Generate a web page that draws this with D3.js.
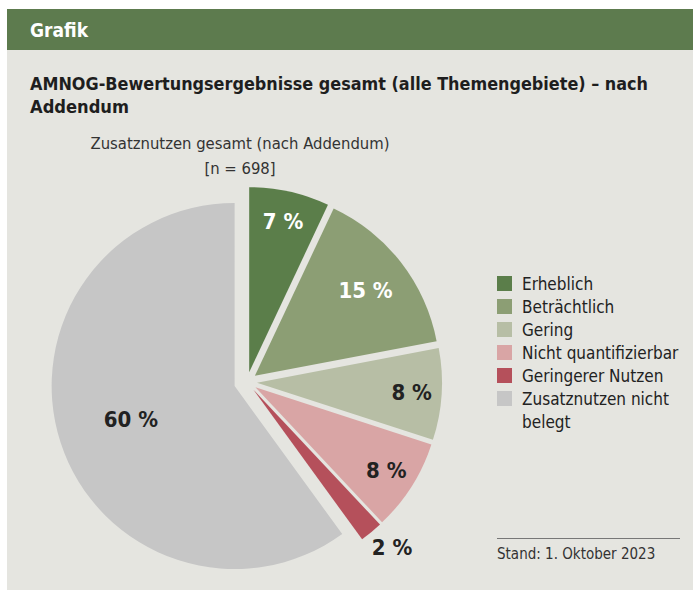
<!DOCTYPE html>
<html>
<head>
<meta charset="utf-8">
<script src="https://cdn.jsdelivr.net/npm/d3@7"></script>
<style>
  body { margin: 0; background: #fff; }
  text { font-family: "DejaVu Sans Condensed", "DejaVu Sans", sans-serif; }
</style>
</head>
<body>
<script>
// data
var categories = ["Erheblich", "Beträchtlich", "Gering", "Nicht quantifizierbar", "Geringerer Nutzen", "Zusatznutzen nicht belegt"];
var values = [7, 15, 8, 8, 2, 60];
var colors = ["#5b7e4a", "#8c9e74", "#b7bea5", "#d9a5a5", "#b5505b", "#c6c6c6"];
var labelColors = ["#fff", "#fff", "#222", "#222", "#222", "#222"];

var w = 693, h = 590;
var bg = "#e5e5e0";

var svg = d3.select("body").append("svg")
    .attr("width", w)
    .attr("height", h);

// panel + header band
svg.append("rect").attr("x", 7).attr("y", 9).attr("width", w - 7).attr("height", h - 9).attr("fill", bg);
svg.append("rect").attr("x", 7).attr("y", 9).attr("width", w - 7).attr("height", 41).attr("fill", "#5d7b4e");
svg.append("text").attr("x", 30).attr("y", 37).text("Grafik")
   .attr("fill", "#fff").attr("font-size", "19px").attr("font-weight", "bold");

// title (squeezed to the width of the condensed original)
svg.append("text").attr("x", 30).attr("y", 90).text("AMNOG-Bewertungsergebnisse gesamt (alle Themengebiete) – nach")
   .attr("textLength", 618).attr("lengthAdjust", "spacingAndGlyphs")
   .attr("fill", "#1e1e1e").attr("font-size", "18.5px").attr("font-weight", "bold");
svg.append("text").attr("x", 30).attr("y", 113).text("Addendum")
   .attr("textLength", 99).attr("lengthAdjust", "spacingAndGlyphs")
   .attr("fill", "#1e1e1e").attr("font-size", "18.5px").attr("font-weight", "bold");

// subtitle
svg.append("text").attr("x", 240).attr("y", 149).attr("text-anchor", "middle")
   .text("Zusatznutzen gesamt (nach Addendum)").attr("fill", "#333").attr("font-size", "16.5px");
svg.append("text").attr("x", 240).attr("y", 174).attr("text-anchor", "middle")
   .text("[n = 698]").attr("fill", "#333").attr("font-size", "16.5px");

// pie
var cx = 247, cy = 382;
var pie = d3.pie().sort(null).value(function(d) { return d; });
var arcs = pie(values);
var last = values.length - 1;

function radius(i) { return i === last ? 183 : 185; }
function offset(i) { return i === last ? 13 : 10; }
function mid(d) { return (d.startAngle + d.endAngle) / 2; }

var g = svg.append("g").attr("transform", "translate(" + cx + "," + cy + ")");

g.selectAll("path")
  .data(arcs)
  .enter()
  .append("path")
  .attr("transform", function(d, i) {
     var a = mid(d), o = offset(i);
     return "translate(" + (Math.sin(a) * o) + "," + (-Math.cos(a) * o) + ")";
  })
  .attr("d", function(d, i) { return d3.arc().innerRadius(0).outerRadius(radius(i))(d); })
  .attr("fill", function(d, i) { return colors[i]; });

// slice labels
function labelR(d, i) {
  if (i === last) return 122;
  if (d.value < 5) return 215;
  if (d.value > 10) return 150;
  return 165;
}
g.selectAll(".lbl")
  .data(arcs)
  .enter()
  .append("text")
  .attr("class", "lbl")
  .attr("x", function(d, i) { return Math.sin(mid(d)) * labelR(d, i) + (d.value < 5 ? 8 : 0); })
  .attr("y", function(d, i) { return -Math.cos(mid(d)) * labelR(d, i); })
  .attr("dy", "0.35em")
  .attr("text-anchor", "middle")
  .attr("font-size", "22px")
  .attr("font-weight", "bold")
  .attr("fill", function(d, i) { return labelColors[i]; })
  .text(function(d) { return d.value + " %"; });

// legend
var legend = svg.append("g").attr("transform", "translate(497,276)");
var rows = [];
categories.forEach(function(c, i) {
  if (c === "Zusatznutzen nicht belegt") rows.push({ i: i, lines: ["Zusatznutzen nicht", "belegt"] });
  else rows.push({ i: i, lines: [c] });
});
var item = legend.selectAll(".item")
  .data(rows)
  .enter()
  .append("g")
  .attr("transform", function(d, k) { return "translate(0," + (k * 23) + ")"; });
item.append("rect")
  .attr("width", 15).attr("height", 15)
  .attr("fill", function(d) { return colors[d.i]; });
item.each(function(d) {
  var t = d3.select(this);
  d.lines.forEach(function(line, j) {
    t.append("text").attr("x", 25).attr("y", 14 + j * 23)
      .attr("font-size", "17px").attr("fill", "#222").text(line);
  });
});

// footer
svg.append("line").attr("x1", 497).attr("x2", 680).attr("y1", 538.5).attr("y2", 538.5)
   .attr("stroke", "#777").attr("stroke-width", 1.2);
svg.append("text").attr("x", 497).attr("y", 559).text("Stand: 1. Oktober 2023")
   .attr("fill", "#333").attr("font-size", "15px");
</script>
</body>
</html>
